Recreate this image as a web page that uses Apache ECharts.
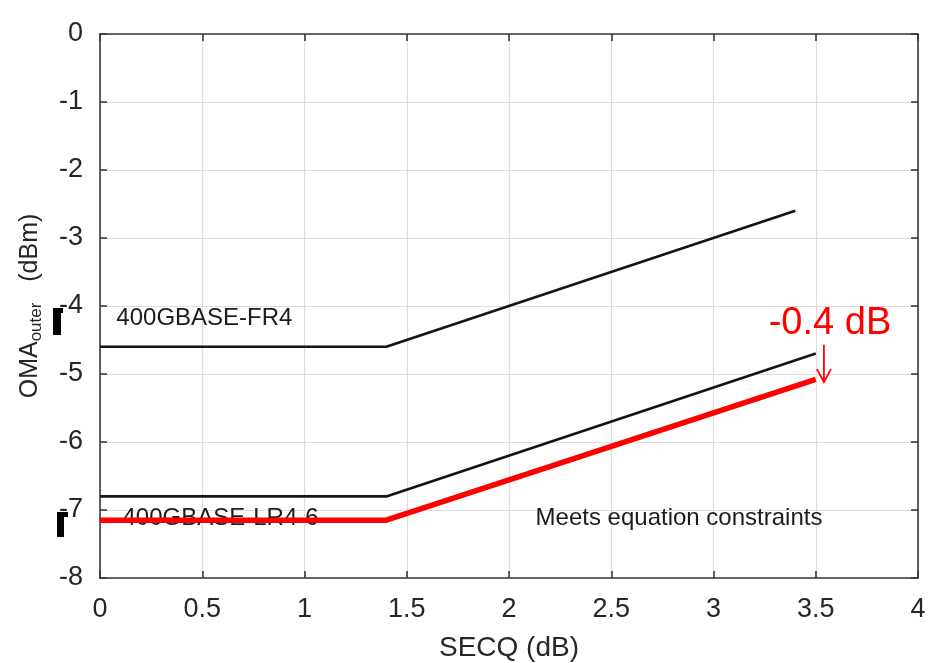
<!DOCTYPE html>
<html>
<head>
<meta charset="utf-8">
<script src="https://cdn.jsdelivr.net/npm/echarts@6/dist/echarts.min.js"></script>
<style>
html,body{margin:0;padding:0;background:#fff;}
#main{width:928px;height:663px;}
</style>
</head>
<body>
<div id="main"></div>
<script>
// ---- data ----
const xTickMin = 0, xTickMax = 4, xTickStep = 0.5;
const yTickMin = -8, yTickMax = 0, yTickStep = 1;

const fr4X = [0, 1.4, 3.4];
const fr4Y = [-4.6, -4.6, -2.6];

const lr46X = [0, 1.4, 3.5];
const lr46Y = [-6.8, -6.8, -4.7];

const redX = [0, 1.4, 3.5];
const redY = [-7.15, -7.15, -5.08];

const annoText = ['400GBASE-FR4', '400GBASE-LR4-6', 'Meets equation constraints'];
const annoX = [0.08, 0.11, 2.13];
const annoY = [-4.18, -7.13, -7.12];

const deltaText = '-0.4 dB';
const deltaX = 3.27, deltaY = -4.26;

const arrowX = 3.54;
const arrowY = [-4.57, -5.12];

const xName = 'SECQ (dB)';
const yNameMain = 'OMA', yNameSub = 'outer', yNameUnit = '(dBm)';

// ---- chart ----
const FONT = '"Liberation Sans", Arial, sans-serif';
const chart = echarts.init(document.getElementById('main'), null, {renderer: 'canvas'});

function zip(xs, ys) { return xs.map((x, i) => [x, ys[i]]); }

const axisLineStyle = {color: '#3a3a3a', width: 1.6};

const option = {
  backgroundColor: '#ffffff',
  animation: false,
  grid: {left: 100, right: 10, top: 34, bottom: 85, containLabel: false, outerBoundsMode: 'none'},
  xAxis: [{
    type: 'value', min: xTickMin, max: xTickMax, interval: xTickStep,
    position: 'bottom',
    name: xName, nameLocation: 'middle', nameGap: 56,
    nameTextStyle: {fontFamily: FONT, fontSize: 28, color: '#262626'},
    axisLine: {show: true, onZero: false, lineStyle: axisLineStyle},
    axisTick: {show: true, inside: true, length: 7, lineStyle: axisLineStyle},
    axisLabel: {fontFamily: FONT, fontSize: 27, color: '#262626', margin: 18,
      formatter: v => String(v)},
    splitLine: {show: true, lineStyle: {color: '#dedede', width: 1.2}}
  }, {
    type: 'value', min: xTickMin, max: xTickMax, interval: xTickStep,
    position: 'top',
    axisLine: {show: true, onZero: false, lineStyle: axisLineStyle},
    axisTick: {show: true, inside: true, length: 7, lineStyle: axisLineStyle},
    axisLabel: {show: false}, splitLine: {show: false}
  }],
  yAxis: [{
    type: 'value', min: yTickMin, max: yTickMax, interval: yTickStep,
    position: 'left',
    name: '{m|' + yNameMain + '}{s|' + yNameSub + '}{m|   ' + yNameUnit + '}',
    nameLocation: 'middle', nameGap: 55, nameRotate: 90,
    nameTextStyle: {
      fontFamily: FONT, color: '#262626',
      rich: {
        m: {fontFamily: FONT, fontSize: 25, color: '#262626', lineHeight: 30, verticalAlign: 'middle'},
        s: {fontFamily: FONT, fontSize: 17, color: '#262626', lineHeight: 30, verticalAlign: 'bottom', padding: [12, 0, 0, 0]}
      }
    },
    axisLine: {show: true, onZero: false, lineStyle: axisLineStyle},
    axisTick: {show: true, inside: true, length: 7, lineStyle: axisLineStyle},
    axisLabel: {fontFamily: FONT, fontSize: 27, color: '#262626', margin: 17},
    splitLine: {show: true, lineStyle: {color: '#dedede', width: 1.2}}
  }, {
    type: 'value', min: yTickMin, max: yTickMax, interval: yTickStep,
    position: 'right',
    axisLine: {show: true, onZero: false, lineStyle: axisLineStyle},
    axisTick: {show: true, inside: true, length: 7, lineStyle: axisLineStyle},
    axisLabel: {show: false}, splitLine: {show: false}
  }],
  series: [
    {
      type: 'custom', name: 'labels', z: 2, silent: true,
      data: annoText.map((t, i) => [annoX[i], annoY[i], i]),
      renderItem: function (params, api) {
        const p = api.coord([api.value(0), api.value(1)]);
        return {
          type: 'text', x: p[0], y: p[1],
          style: {text: annoText[api.value(2)], font: '24px ' + FONT, fill: '#1c1c1c',
            textAlign: 'left', textVerticalAlign: 'middle'}
        };
      }
    },
    {
      type: 'line', name: '400GBASE-FR4', z: 3, data: zip(fr4X, fr4Y),
      symbol: 'none', lineStyle: {color: '#141414', width: 2.6}
    },
    {
      type: 'line', name: '400GBASE-LR4-6', z: 3, data: zip(lr46X, lr46Y),
      symbol: 'none', lineStyle: {color: '#141414', width: 2.6}
    },
    {
      type: 'line', name: 'Meets equation constraints', z: 4, data: zip(redX, redY),
      symbol: 'none', lineStyle: {color: '#ff0000', width: 5.5, cap: 'butt'}
    },
    {
      type: 'custom', name: 'delta', z: 5, silent: true,
      data: [[deltaX, deltaY, arrowX, arrowY[0], arrowY[1]]],
      renderItem: function (params, api) {
        const t = api.coord([api.value(0), api.value(1)]);
        const a0 = api.coord([api.value(2), api.value(3)]);
        const a1 = api.coord([api.value(2), api.value(4)]);
        return {
          type: 'group',
          children: [
            {type: 'text', x: t[0], y: t[1],
              style: {text: deltaText, font: '38px ' + FONT, fill: '#ff0000',
                textAlign: 'left', textVerticalAlign: 'middle'}},
            {type: 'line', shape: {x1: a0[0], y1: a0[1], x2: a1[0], y2: a1[1]},
              style: {stroke: '#ff0000', lineWidth: 1.8}},
            {type: 'polyline', shape: {points: [[a1[0] - 7, a1[1] - 13], [a1[0], a1[1]], [a1[0] + 7, a1[1] - 13]]},
              style: {stroke: '#ff0000', lineWidth: 1.8, fill: null}}
          ]
        };
      }
    }
  ],
  graphic: [
    {type: 'rect', z: 100, shape: {x: 53, y: 309, width: 8, height: 26}, style: {fill: '#000'}},
    {type: 'rect', z: 100, shape: {x: 53, y: 308, width: 10, height: 5}, style: {fill: '#000'}},
    {type: 'rect', z: 100, shape: {x: 57, y: 513, width: 7, height: 24}, style: {fill: '#000'}},
    {type: 'rect', z: 100, shape: {x: 57, y: 512, width: 11, height: 5}, style: {fill: '#000'}}
  ]
};

chart.setOption(option);
</script>
</body>
</html>
